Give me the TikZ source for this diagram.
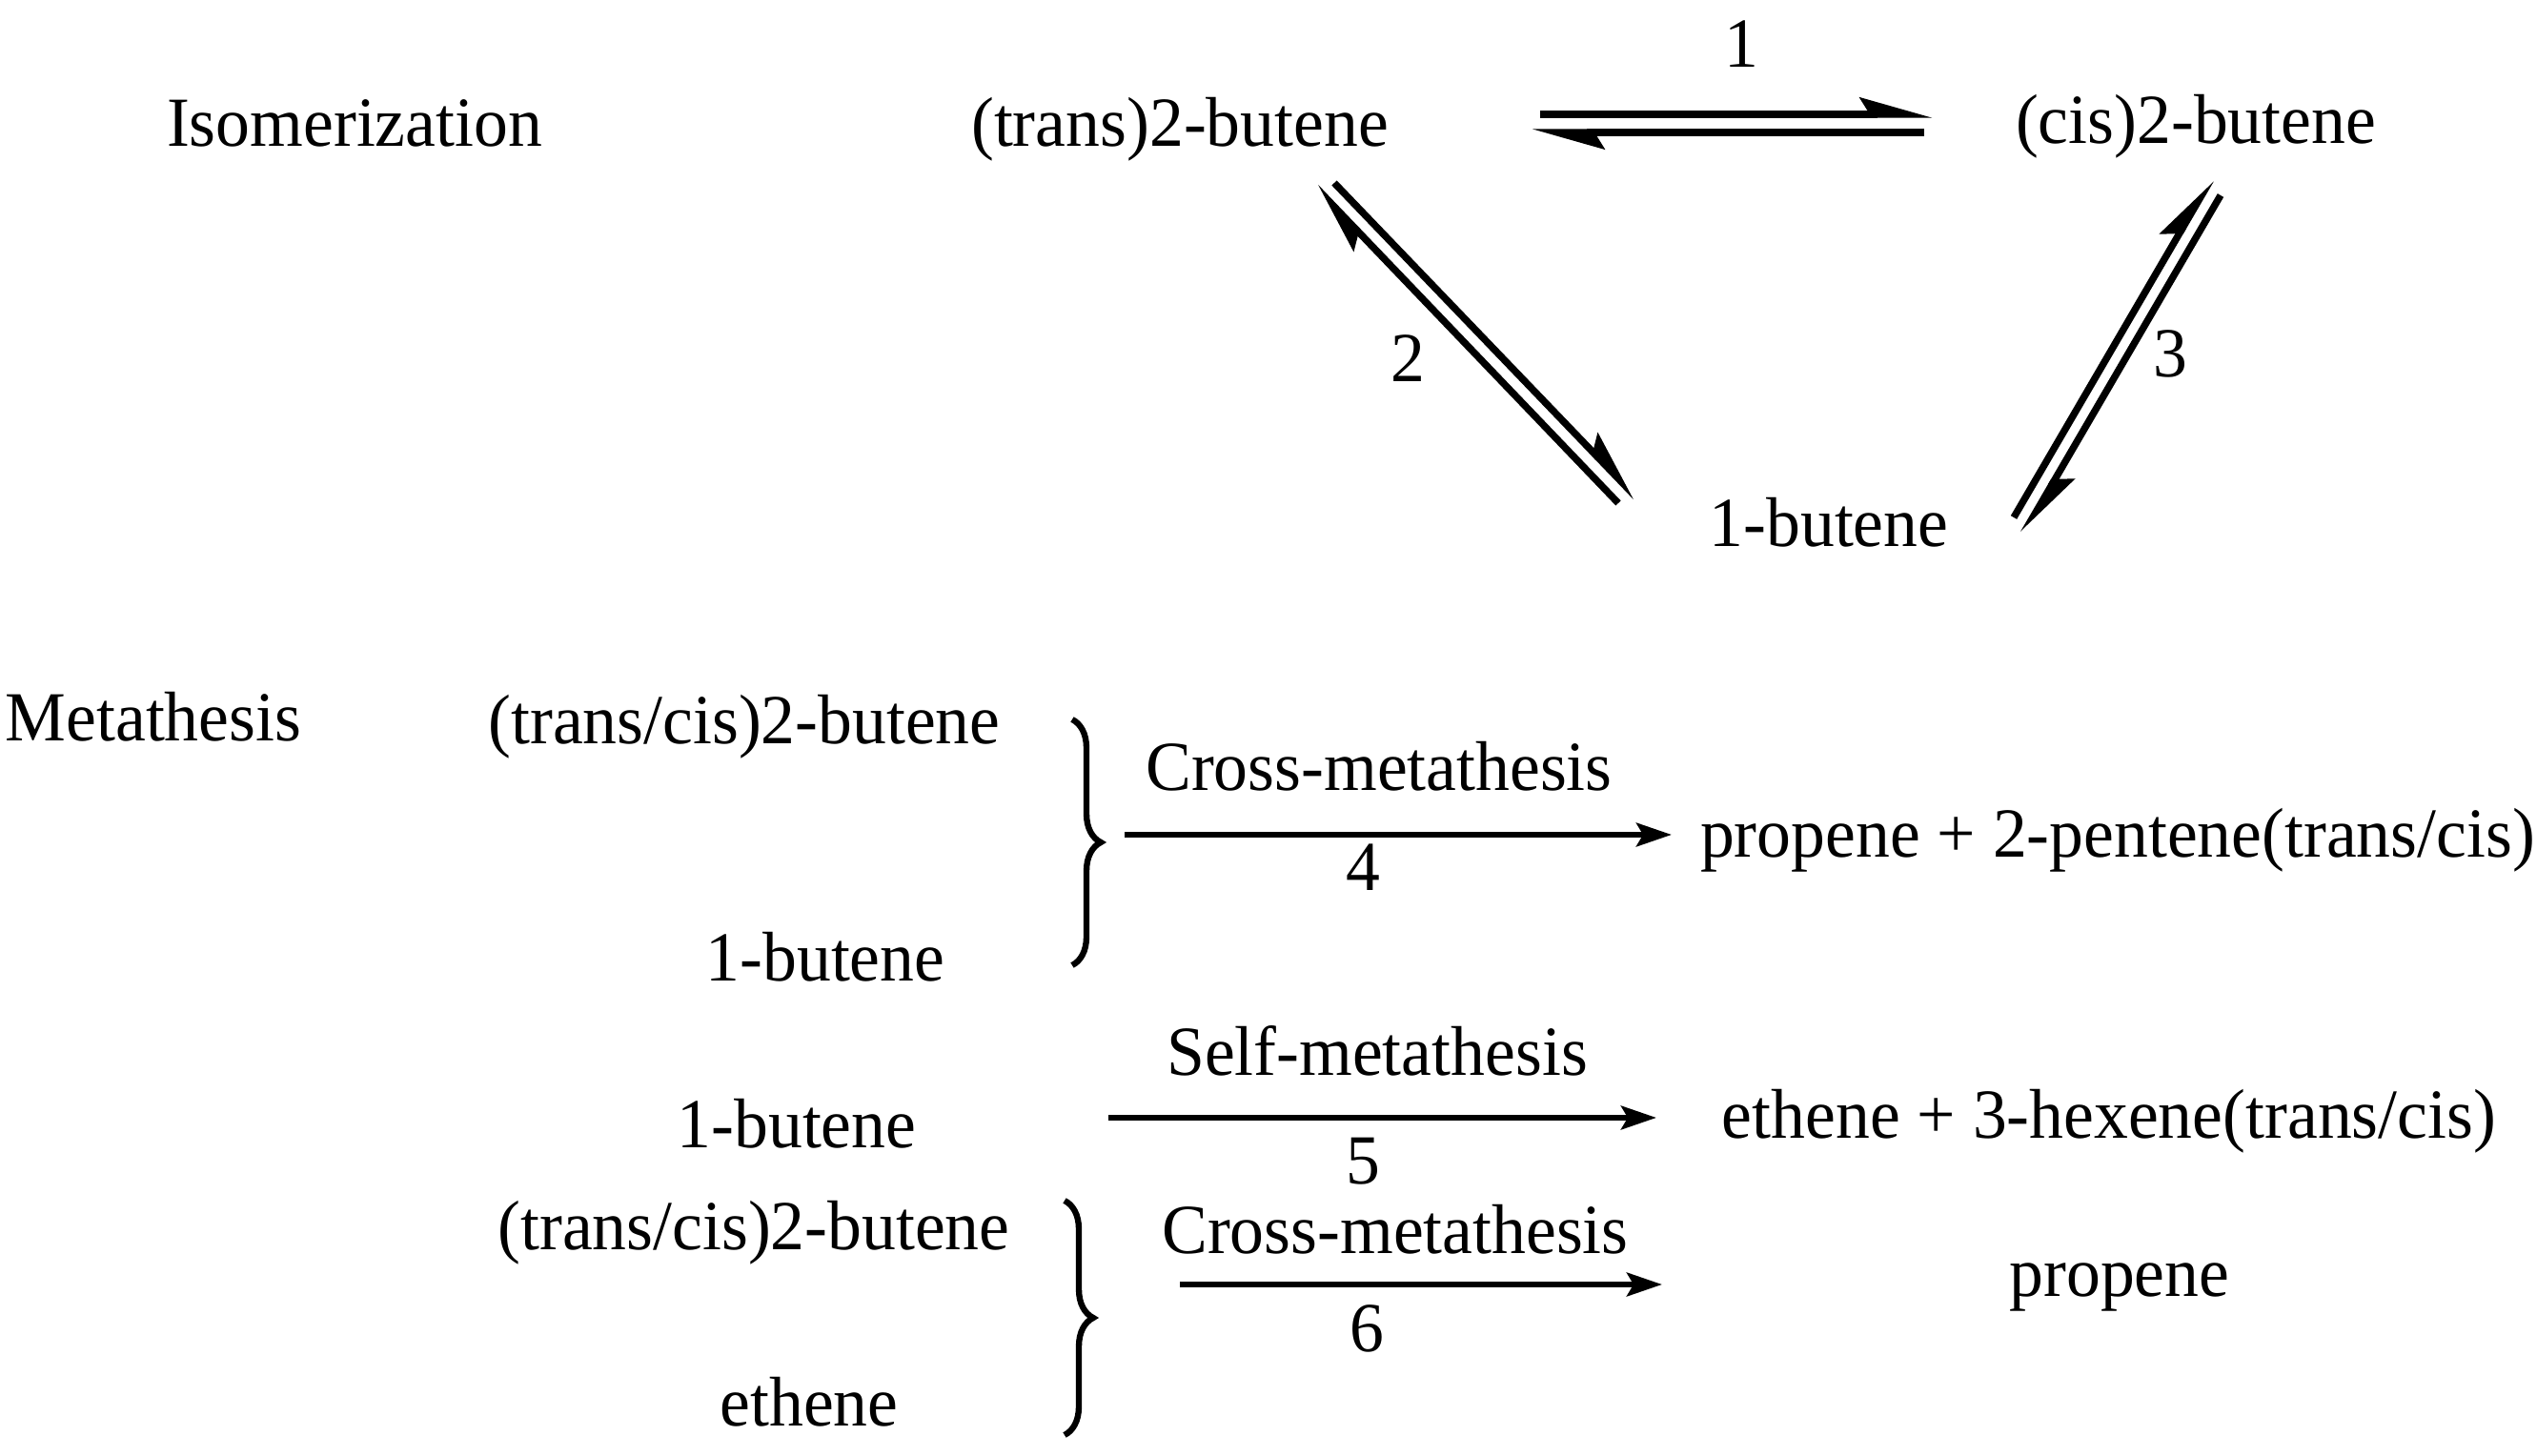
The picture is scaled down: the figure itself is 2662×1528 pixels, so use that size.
\documentclass[tikz,border=0pt]{standalone}
\usepackage{fontspec}
\setmainfont{Liberation Serif}[FakeStretch=0.97]
\usetikzlibrary{arrows.meta,decorations.pathreplacing}
\begin{document}
\begin{tikzpicture}[x=0.01cm,y=-0.01cm,
  lbl/.style={anchor=base,inner sep=0pt,font=\fontsize{21pt}{25pt}\selectfont},
  harp/.style={line width=2.1pt,-{Stealth[left,length=18pt,width=10pt,inset=3pt]}},
  rxn/.style={line width=1.8pt,-{Stealth[length=10.5pt,width=7pt,inset=2pt]}},
  brc/.style={line width=1.8pt,decorate,decoration={brace,amplitude=0.3cm}}]
\useasboundingbox (0,0) rectangle (2662,1528);
% Isomerization
\node[lbl] (iso) at (372,154) {Isomerization};
\node[lbl] (tb) at (1238,154) {(trans)2-butene};
\node[lbl] (cb) at (2304,151) {(cis)2-butene};
\node[lbl] (ob) at (1919,574) {1-butene};
\node[lbl] (l1) at (1827,71) {1};
\node[lbl] (l2) at (1477,401) {2};
\node[lbl] (l3) at (2277,396) {3};
\coordinate (e1a) at (1616,120); \coordinate (e1b) at (2028,120);
\coordinate (e1c) at (2019,139); \coordinate (e1d) at (1607,139);
\draw[harp] (e1a) -- (e1b);
\draw[harp] (e1c) -- (e1d);
\coordinate (e2a) at (1400,192); \coordinate (e2b) at (1717,522);
\coordinate (e2c) at (1698,528); \coordinate (e2d) at (1380,196);
\draw[harp] (e2a) -- (e2b);
\draw[harp] (e2c) -- (e2d);
\coordinate (e3a) at (2113,543); \coordinate (e3b) at (2320,188);
\coordinate (e3c) at (2330,205); \coordinate (e3d) at (2123,560);
\draw[harp] (e3a) -- (e3b);
\draw[harp] (e3c) -- (e3d);
% Metathesis
\node[lbl] (met) at (161,778) {Metathesis};
\node[lbl] (r4a) at (781,781) {(trans/cis)2-butene};
\node[lbl] (r4b) at (866,1030) {1-butene};
\node[lbl] (c4) at (1447,830) {Cross-metathesis};
\node[lbl] (n4) at (1430,935) {4};
\node[lbl] (p4) at (2222,900) {propene + 2-pentene(trans/cis)};
\coordinate (b1t) at (1125,755); \coordinate (b1b) at (1125,1013);
\draw[brc] (b1t) -- (b1b);
\coordinate (a4s) at (1180,876); \coordinate (a4e) at (1754,876);
\draw[rxn] (a4s) -- (a4e);
\node[lbl] (r5) at (836,1205) {1-butene};
\node[lbl] (c5) at (1445,1129) {Self-metathesis};
\node[lbl] (n5) at (1430,1243) {5};
\node[lbl] (p5) at (2213,1195) {ethene + 3-hexene(trans/cis)};
\coordinate (a5s) at (1163,1173); \coordinate (a5e) at (1738,1173);
\draw[rxn] (a5s) -- (a5e);
\node[lbl] (r6a) at (791,1312) {(trans/cis)2-butene};
\node[lbl] (r6b) at (849,1496) {ethene};
\node[lbl] (c6) at (1464,1316) {Cross-metathesis};
\node[lbl] (n6) at (1434,1419) {6};
\node[lbl] (p6) at (2224,1360) {propene};
\coordinate (b2t) at (1117,1260); \coordinate (b2b) at (1117,1506);
\draw[brc] (b2t) -- (b2b);
\coordinate (a6s) at (1238,1348); \coordinate (a6e) at (1744,1348);
\draw[rxn] (a6s) -- (a6e);
\end{tikzpicture}
\end{document}
